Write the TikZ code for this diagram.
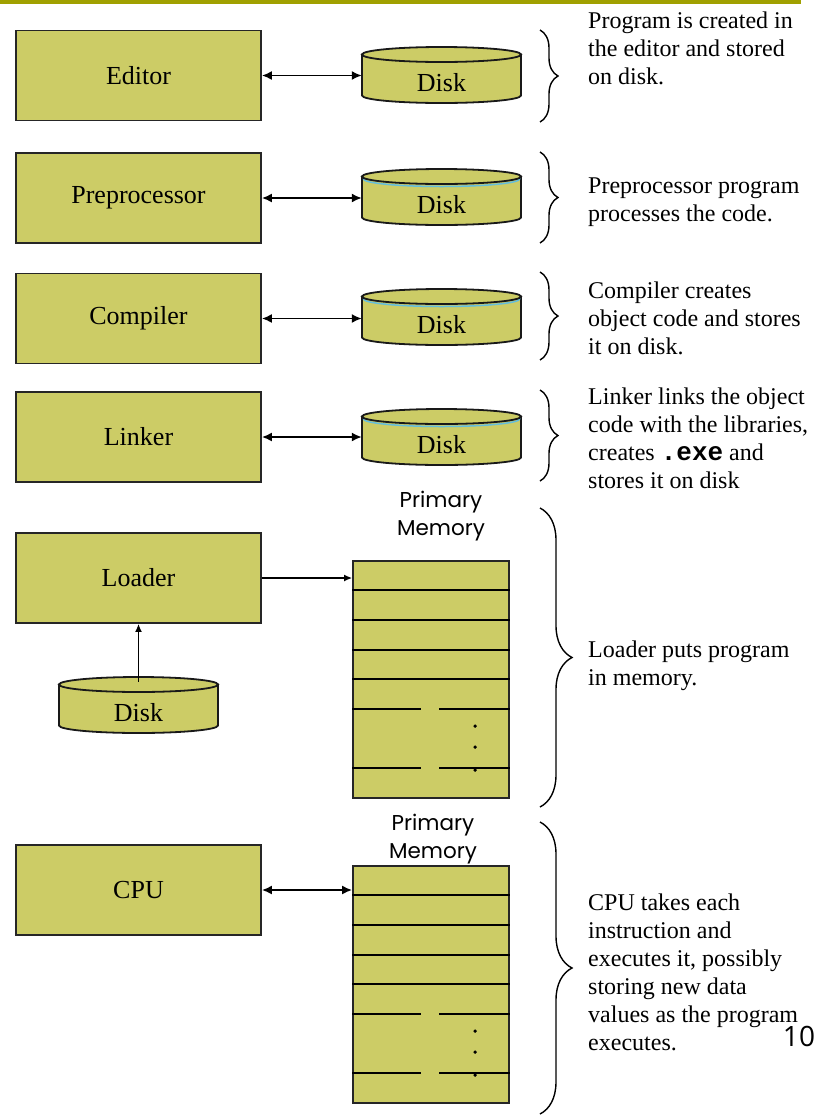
\documentclass[tikz,border=0pt]{standalone}
\usepackage{fontspec}
\setmainfont{Liberation Serif}
\newfontfamily\memfont{Poppins}
\newfontfamily\numfont{Open Sans}
\newfontfamily\codefont{Liberation Mono}
\usetikzlibrary{calc, arrows.meta, decorations.pathreplacing}

\definecolor{olivebar}{RGB}{160,160,0}
\definecolor{stepfill}{RGB}{204,204,102}
\definecolor{rimblue}{RGB}{100,190,220}

% disk: [rim colour] name, x, y of centre
\newcommand{\disk}[4][opacity=0]{%
  \filldraw[diskline] (#3-79.5,#4-20.5) -- (#3-79.5,#4+20.5)
    arc[start angle=180, end angle=0, x radius=79.5, y radius=7.5] -- (#3+79.5,#4-20.5) -- cycle;
  \draw[#1, line width=1.5pt] (#3-78,#4-20.5) -- (#3-78,#4-18)
    arc[start angle=180, end angle=0, x radius=78, y radius=7.5] -- (#3+78,#4-20.5);
  \filldraw[diskline] (#3,#4-20.5) ellipse[x radius=79.5, y radius=7.5];
  \node[diskframe] (#2) at (#3,#4) {};
  \node[stepfont] (#2-t) at (#3,#4+8) {Disk};
}
% memory: name, y of top
\newcommand{\memory}[2]{%
  \node[memframe] (#1) at (431,#2+118.5) {};
  \foreach \dy in {29.5,60,89.5,119}
    \draw[memline] ($(#1.north west)+(0,\dy)$) -- ($(#1.north east)+(0,\dy)$);
  \foreach \dy in {149,208} {
    \draw[memline] ($(#1.north west)+(0,\dy)$) -- ($(#1.north west)+(69,\dy)$);
    \draw[memline] ($(#1.north west)+(87,\dy)$) -- ($(#1.north east)+(0,\dy)$);
  }
  \foreach \dy in {166,187,210} \fill ($(#1.north west)+(123,\dy)$) circle (1.8);
}

\begin{document}
\begin{tikzpicture}[x=1pt, y=-1pt,
  stepfont/.style={font=\fontsize{26}{30}\selectfont},
  stepbox/.style={stepfont, draw=black!85, line width=1.8pt, fill=stepfill,
    minimum width=245, minimum height=90, inner sep=0},
  diskline/.style={draw=black!90, line width=1.8pt, fill=stepfill},
  diskframe/.style={minimum width=159, minimum height=56, inner sep=0},
  memframe/.style={draw=black!85, line width=1.8pt, fill=stepfill,
    minimum width=156, minimum height=237, inner sep=0},
  memline/.style={line width=2.2pt},
  memlabel/.style={font=\memfont\fontsize{21.5}{28}\selectfont, align=center},
  note/.style={font=\fontsize{24}{28}\selectfont, align=left, anchor=north west, inner sep=0},
  link/.style={line width=1.7pt, {Latex[length=10pt,width=9pt]}-{Latex[length=10pt,width=9pt]}},
  feed/.style={line width=1.4pt, -{Latex[length=8pt,width=7pt]}},
  bracket/.style={line width=1.4pt, decorate, decoration={brace, amplitude=#1}},
]
  \useasboundingbox (0,0) rectangle (825,1117);
  \fill[olivebar] (0,0) rectangle (801,3.5);

  % build steps
  \node[stepbox] (editor) at (138.5,75.5) {Editor};
  \node[stepbox] (prep)   at (138.5,198)  {Preprocessor};
  \node[stepbox] (comp)   at (138.5,318.5) {Compiler};
  \node[stepbox] (link)   at (138.5,437)  {Linker};
  \node[stepbox] (loader) at (138.5,578)  {Loader};
  \node[stepbox] (cpu)    at (138.5,890)  {CPU};

  \disk{d1}{441.5}{75}
  \disk[rimblue]{d2}{441.5}{197}
  \disk[rimblue]{d3}{441.5}{317}
  \disk[rimblue]{d4}{441.5}{437}
  \disk{d5}{138.5}{705}

  \memory{mem1}{561}
  \memory{mem2}{866}
  \node[memlabel] (pm1) at (441,516) {Primary\\Memory};
  \node[memlabel] (pm2) at (433,839) {Primary\\Memory};

  \draw[link] (editor.east) -- (editor.east -| d1.west);
  \draw[link] (prep.east) -- (prep.east -| d2.west);
  \draw[link] (comp.east) -- (comp.east -| d3.west);
  \draw[link] (link.east) -- (link.east -| d4.west);
  \draw[feed] (loader.east) -- (loader.east -| mem1.west);
  \draw[feed] ($(d5.north)+(0,5)$) -- (loader.south);
  \draw[link] (cpu.east) -- (cpu.east -| mem2.west);

  % braces and notes
  \draw[bracket=18] (540,30) -- (540,122);
  \draw[bracket=18] (540,152) -- (540,243);
  \draw[bracket=18] (540,272) -- (540,360);
  \draw[bracket=18] (540,390) -- (540,481);
  \draw[bracket=32] (540,508) -- (540,807);
  \draw[bracket=32] (540,822) -- (540,1114);

  \node[note] (n1) at (588,11.5) {Program is created in\\the editor and stored\\on disk.};
  \node[note] (n2) at (588,177.5) {Preprocessor program\\processes the code.};
  \node[note] (n3) at (588,281.5) {Compiler creates\\object code and stores\\it on disk.};
  \node[note] (n4) at (588,387.5) {Linker links the object\\code with the libraries,\\creates {\codefont\bfseries\fontsize{26}{28}\selectfont .exe} and\\stores it on disk};
  \node[note] (n5) at (588,640.5) {Loader puts program\\in memory.};
  \node[note] (n6) at (588,893.5) {CPU takes each\\instruction and\\executes it, possibly\\storing new data\\values as the program\\executes.};

  \node[font=\numfont\fontsize{28}{30}\selectfont] (pg) at (799,1036) {10};
\end{tikzpicture}
\end{document}
